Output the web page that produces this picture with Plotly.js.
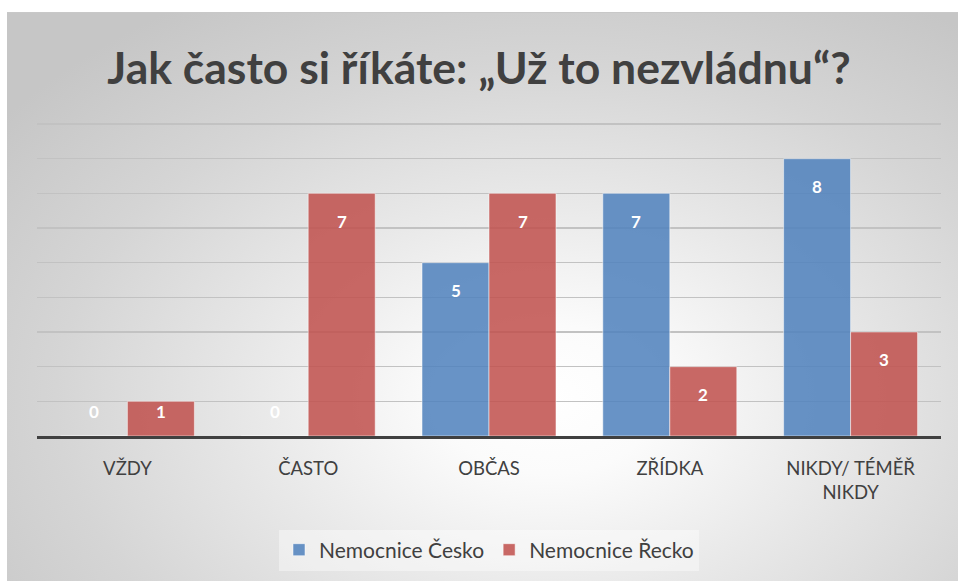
<!DOCTYPE html>
<html>
<head>
<meta charset="utf-8">
<script src="https://cdn.plot.ly/plotly-3.0.1.min.js"></script>
<style>
  html, body { margin:0; padding:0; background:#ffffff; }
  #wrap { position:relative; width:958px; height:581px; overflow:hidden; }
  #bg { position:absolute; left:7px; top:12px; right:0; bottom:0;
        background: radial-gradient(ellipse 72% 82% at 57% 68%, #ffffff 0%, #fbfbfb 16%, #e9e9e9 42%, #d5d5d5 72%, #c6c6c6 100%);
        border-top:1px solid #c8c8c8; }
  #chart { position:absolute; left:0; top:0; width:958px; height:581px; }
</style>
</head>
<body>
<div id="wrap"><div id="bg"></div><div id="chart"></div></div>
<script>
const categories = ["VŽDY", "ČASTO", "OBČAS", "ZŘÍDKA", "NIKDY/ TÉMĚŘ<br>NIKDY"];
const seriesNames = ["Nemocnice Česko", "Nemocnice Řecko"];
const valuesCesko = [0, 0, 5, 7, 8];
const valuesRecko = [1, 7, 7, 2, 3];
const titleText = "Jak často si říkáte: „Už to nezvládnu“?";

const blue = "rgba(79,129,189,0.86)";
const red = "rgba(192,80,77,0.86)";

const traces = [
  { type: "bar", name: seriesNames[0], x: categories, y: valuesCesko,
    marker: { color: blue, line: { color: "rgba(255,255,255,0.5)", width: 1 } }, hoverinfo: "skip" },
  { type: "bar", name: seriesNames[1], x: categories, y: valuesRecko,
    marker: { color: red, line: { color: "rgba(255,255,255,0.5)", width: 1 } }, hoverinfo: "skip" }
];

// data labels: white bold, near top of bars (clamped near baseline for small bars)
const annotations = [];
[valuesCesko, valuesRecko].forEach((vals, si) => {
  vals.forEach((v, i) => {
    annotations.push({
      x: categories[i], y: Math.max(v - 0.8, 0.72), xref: "x", yref: "y",
      text: String(v), showarrow: false, xshift: si === 0 ? -33.5 : 33.5,
      yanchor: "middle",
      font: { family: "Lato, 'Open Sans', sans-serif", size: 17, color: "#ffffff", weight: "bold" }
    });
  });
});

const layout = {
  width: 958, height: 581,
  paper_bgcolor: "rgba(0,0,0,0)", plot_bgcolor: "rgba(0,0,0,0)",
  margin: { l: 37, r: 17, t: 123, b: 144 },
  title: { text: "<b>" + titleText + "</b>", x: 0.5, xanchor: "center", y: 0.883, yanchor: "middle",
           font: { family: "Lato, 'Open Sans', sans-serif", size: 44.5, color: "#404040" } },
  barmode: "group", bargap: 0.259, bargroupgap: 0,
  xaxis: { showline: true, linecolor: "#404040", linewidth: 3, ticks: "", ticklabelstandoff: 14,
           tickfont: { family: "Lato, 'Open Sans', sans-serif", size: 18.5, color: "#404040" },
           showgrid: false, zeroline: false, fixedrange: true },
  yaxis: { range: [0, 9.03], tickvals: [1, 2, 3, 4, 5, 6, 7, 8, 9], showticklabels: false, showgrid: true, gridcolor: "#c2c2c2", gridwidth: 1.3,
           zeroline: false, showline: false, fixedrange: true },
  showlegend: true,
  legend: { orientation: "h", x: 0.5, xanchor: "center", y: -0.36, yanchor: "middle",
            bgcolor: "rgba(255,255,255,0.4)", font: { family: "Lato, 'Open Sans', sans-serif", size: 21, color: "#404040" },
            itemwidth: 30, traceorder: "normal" },
  annotations: annotations
};

Plotly.newPlot("chart", traces, layout, { displayModeBar: false, staticPlot: true });
</script>
</body>
</html>
